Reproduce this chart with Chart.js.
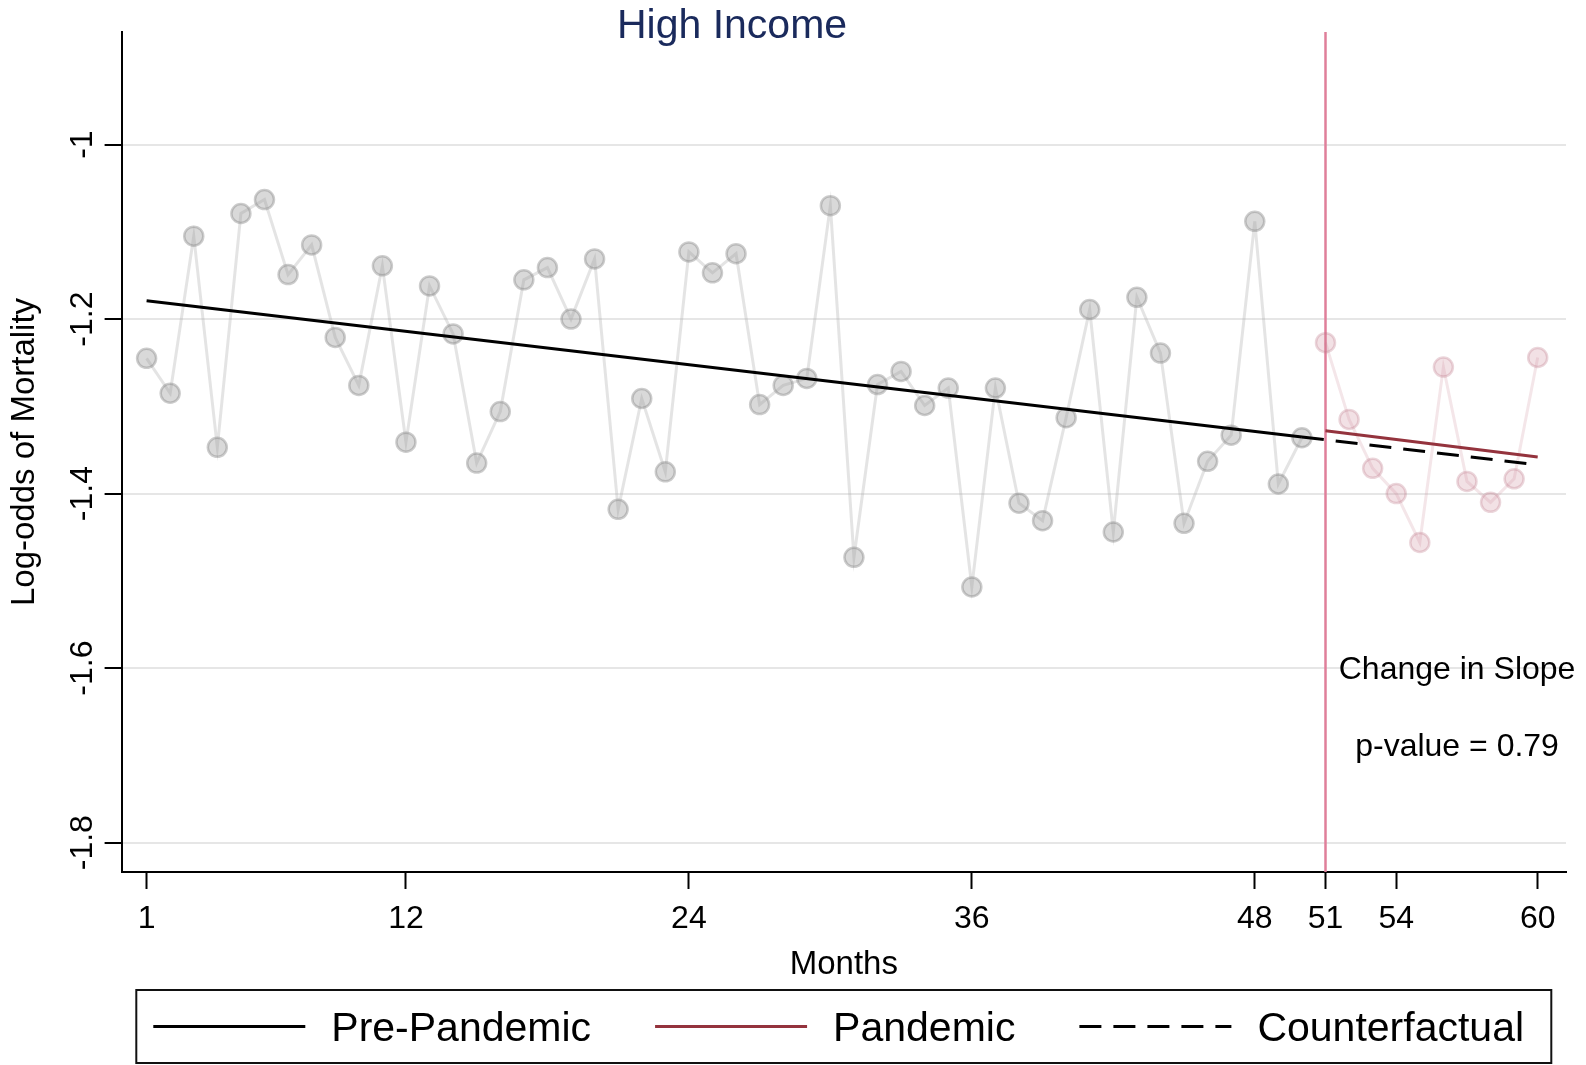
<!DOCTYPE html>
<html>
<head>
<meta charset="utf-8">
<title>High Income</title>
<script src="https://cdn.jsdelivr.net/npm/chart.js@4.4.1/dist/chart.umd.min.js"></script>
<style>
  html, body { margin: 0; padding: 0; background: #fff; }
</style>
</head>
<body>
<canvas id="myChart" width="1586" height="1065"></canvas>
<script>
// observed log-odds of mortality, months 1-50
var preValues = [
    -1.245, -1.285, -1.105, -1.347, -1.079, -1.063, -1.149, -1.115, -1.221, -1.276,
    -1.139, -1.341, -1.162, -1.217, -1.365, -1.306, -1.155, -1.141, -1.200, -1.131,
    -1.418, -1.291, -1.375, -1.123, -1.147, -1.125, -1.298, -1.276, -1.268, -1.070,
    -1.473, -1.275, -1.260, -1.299, -1.279, -1.507, -1.279, -1.411, -1.431, -1.313,
    -1.189, -1.444, -1.175, -1.239, -1.434, -1.363, -1.333, -1.088, -1.389, -1.336
];
// months 51-60
var pandemicValues = [-1.227, -1.315, -1.371, -1.400, -1.456, -1.255, -1.386, -1.410, -1.383, -1.244];
var preStartMonth = 1;
var pandemicStartMonth = 51;

// fitted segments
var preTrendMonths = [1, 50];
var preTrendValues = [-1.179, -1.335];
var pandemicTrendMonths = [51, 60];
var pandemicTrendValues = [-1.328, -1.358];
var counterMonths = [50, 60];
var counterValues = [-1.335, -1.367];

var xTicks = [1, 12, 24, 36, 48, 51, 54, 60];
var yTicks = [-1.8, -1.6, -1.4, -1.2, -1];
var yTickLabels = ["-1.8", "-1.6", "-1.4", "-1.2", "-1"];

var FONT = "'Liberation Sans', Arial, sans-serif";
Chart.defaults.font.family = FONT;
Chart.defaults.color = "#000";

let toPoints = (months, values) => months.map((m, i) => ({ x: m, y: values[i] }));
let series = (start, values) => values.map((v, i) => ({ x: start + i, y: v }));

// extra drawing: interruption line, y tick labels, title, notes, legend box
var extras = {
    id: "extras",
    beforeDatasetsDraw: function (chart) {
        var c = chart.ctx, a = chart.chartArea;
        var x = chart.scales.x.getPixelForValue(pandemicStartMonth);
        c.save();
        c.strokeStyle = "#df7f9a";
        c.lineWidth = 2.5;
        c.beginPath();
        c.moveTo(x, a.top);
        c.lineTo(x, a.bottom);
        c.stroke();
        c.restore();
    },
    afterDraw: function (chart) {
        var c = chart.ctx, a = chart.chartArea;
        var xs = chart.scales.x, ys = chart.scales.y;
        c.save();

        // y tick labels, rotated
        c.font = "32px " + FONT;
        c.fillStyle = "#000";
        c.textAlign = "center";
        c.textBaseline = "alphabetic";
        yTicks.forEach(function (v, i) {
            c.save();
            c.translate(a.left - 30, ys.getPixelForValue(v));
            c.rotate(-Math.PI / 2);
            c.fillText(yTickLabels[i], 0, 0);
            c.restore();
        });

        // title
        c.font = "41px " + FONT;
        c.fillStyle = "#1a2a5c";
        c.textBaseline = "middle";
        c.fillText("High Income", 732, 27);

        // slope change note
        c.font = "32px " + FONT;
        c.fillStyle = "#000";
        c.fillText("Change in Slope", xs.getPixelForValue(56.58), ys.getPixelForValue(-1.602));
        c.fillText("p-value = 0.79", xs.getPixelForValue(56.58), ys.getPixelForValue(-1.691));

        // legend
        var boxW = 1415, boxH = 73;
        var boxL = (a.left + a.right) / 2 - boxW / 2;
        var boxT = chart.height - boxH - 2;
        c.strokeStyle = "#111";
        c.lineWidth = 2;
        c.strokeRect(boxL, boxT, boxW, boxH);

        var items = chart.data.datasets.filter(d => d.inLegend);
        var cx = boxL + 17, cy = boxT + boxH / 2;
        c.font = "41px " + FONT;
        c.textAlign = "left";
        items.forEach(function (d) {
            c.save();
            c.strokeStyle = d.borderColor;
            c.lineWidth = 3;
            c.setLineDash(d.borderDash || []);
            c.beginPath();
            c.moveTo(cx, cy);
            c.lineTo(cx + 152, cy);
            c.stroke();
            c.restore();
            cx += 152 + 26;
            c.fillStyle = "#000";
            c.fillText(d.label, cx, cy + 3);
            cx += c.measureText(d.label).width + 64;
        });
        c.restore();
    }
};

var ctx = document.getElementById("myChart").getContext("2d");
var myChart = new Chart(ctx, {
    type: "line",
    data: {
        datasets: [
            {
                label: "Pre-Pandemic",
                inLegend: true,
                data: toPoints(preTrendMonths, preTrendValues),
                borderColor: "#000000",
                borderWidth: 3,
                pointRadius: 0,
            },
            {
                label: "Pandemic",
                inLegend: true,
                data: toPoints(pandemicTrendMonths, pandemicTrendValues),
                borderColor: "#94333d",
                borderWidth: 3,
                pointRadius: 0,
            },
            {
                label: "Counterfactual",
                inLegend: true,
                data: toPoints(counterMonths, counterValues),
                borderColor: "#000000",
                borderWidth: 3,
                borderDash: [22, 12],
                pointRadius: 0,
            },
            {
                label: "Observed (pre)",
                data: series(preStartMonth, preValues),
                borderColor: "rgba(170,170,170,0.32)",
                borderWidth: 3,
                pointRadius: 9.5,
                pointBackgroundColor: "rgba(150,150,150,0.36)",
                pointBorderColor: "rgba(130,130,130,0.4)",
                pointBorderWidth: 2.5,
            },
            {
                label: "Observed (pandemic)",
                data: series(pandemicStartMonth, pandemicValues),
                borderColor: "rgba(200,130,145,0.2)",
                borderWidth: 3,
                pointRadius: 9.5,
                pointBackgroundColor: "rgba(200,130,145,0.24)",
                pointBorderColor: "rgba(190,120,135,0.3)",
                pointBorderWidth: 2.5,
            },
        ],
    },
    options: {
        responsive: false,
        animation: false,
        layout: { padding: { top: 32, right: 20, bottom: 81, left: 0 } },
        plugins: {
            legend: { display: false },
            tooltip: { enabled: false },
        },
        scales: {
            x: {
                type: "linear",
                min: -0.06,
                max: 61.2,
                afterBuildTicks: (s) => { s.ticks = xTicks.map((v) => ({ value: v })); },
                ticks: { autoSkip: false, maxRotation: 0, font: { size: 32 }, padding: 11, color: "#000" },
                grid: { drawOnChartArea: false, tickLength: 17, tickColor: "#000", tickWidth: 2 },
                border: { color: "#000", width: 2 },
                title: { display: true, text: "Months", font: { size: 33, lineHeight: 0.958 }, color: "#000", padding: { top: 0, bottom: 3 } },
            },
            y: {
                type: "linear",
                min: -1.8336,
                max: -0.871,
                afterBuildTicks: (s) => { s.ticks = yTicks.map((v) => ({ value: v })); },
                ticks: { display: false },
                grid: { color: "#e6e6e6", lineWidth: 2, tickColor: "#000", tickWidth: 2, tickLength: 17 },
                border: { color: "#000", width: 2 },
                title: { display: true, text: "Log-odds of Mortality", font: { size: 33 }, color: "#000", padding: { top: 5, bottom: 60 } },
            },
        },
    },
    plugins: [extras],
});
</script>
</body>
</html>
